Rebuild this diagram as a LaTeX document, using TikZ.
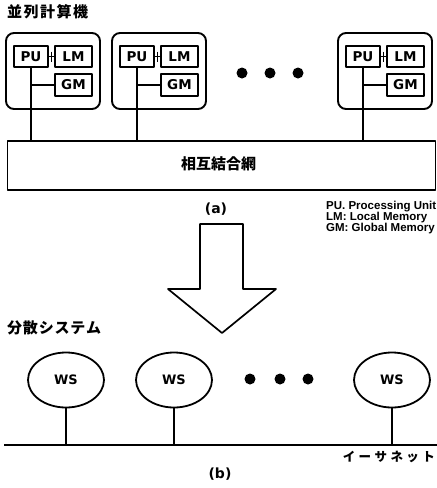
\documentclass[tikz,border=0pt]{standalone}
\usepackage{fontspec}
\setmainfont{DejaVu Sans}
\newfontfamily\jpfont{Noto Sans CJK JP}
\newfontfamily\legendfont{Liberation Sans}
\usetikzlibrary{shapes.geometric,calc}

% spread a run of characters evenly over a given width
\newcommand\spreadto[2]{\makebox[#1][s]{#2}}

\begin{document}
\begin{tikzpicture}[x=1pt,y=-1pt,
  line join=round,
  frame/.style={draw, line width=1.9pt, rounded corners=8pt, minimum width=94pt, minimum height=76pt, inner sep=0pt},
  unit/.style={draw, line width=1.6pt, inner sep=0pt, font=\bfseries\fontsize{13.5}{14}\selectfont},
  wire/.style={line width=1.7pt},
  ws/.style={draw, ellipse, line width=1.8pt, minimum width=76pt, minimum height=55pt, inner sep=0pt, font=\bfseries\fontsize{13}{14}\selectfont},
  dot/.style={fill, circle, minimum size=11pt, inner sep=0pt},
  jp/.style={font=\jpfont\bfseries\fontsize{15}{16}\selectfont, inner sep=0pt},
  caption/.style={font=\bfseries\fontsize{14}{15}\selectfont, inner sep=0pt},
  legend/.style={font=\legendfont\bfseries\fontsize{11.5}{12}\selectfont, inner sep=0pt, anchor=west}
]
\useasboundingbox (0,0) rectangle (437,488);

% ---------- parallel computer ----------
\node[jp, anchor=west] (title1) at (7,12) {\spreadto{81pt}{並\hfill 列\hfill 計\hfill 算\hfill 機}};

\node[draw, line width=1.9pt, minimum width=428pt, minimum height=49pt, inner sep=0pt] (net) at (221.5,165.5) {};
\node[jp] (netlabel) at (217,164) {\spreadto{72pt}{相\hfill 互\hfill 結\hfill 合\hfill 網}};

\foreach \i/\L in {1/6,2/112,3/338}{
  \node[frame] (pe\i) at ({\L+47},71) {};
  \node[unit, minimum width=34pt, minimum height=21pt] (pu\i) at ({\L+25},56.5) {PU};
  \node[unit, minimum width=37pt, minimum height=21pt] (lm\i) at ({\L+67.5},56.5) {LM};
  \node[unit, minimum width=37pt, minimum height=22pt] (gm\i) at ({\L+67.5},85) {GM};
  % PU -- LM link with its small tick
  \draw[wire] (pu\i.east) -- (lm\i.west);
  \draw[wire] ($(pu\i.east)!0.5!(lm\i.west)+(0,-5)$) -- ++(0,10);
  % PU bus line down to the network, with a branch to GM
  \draw[wire] (pu\i.south) -- (pu\i.south |- net.north);
  \draw[wire] (gm\i.west) -- (gm\i.west -| pu\i.south);
}

\node[dot] (d1) at (242,73) {};
\node[dot] (d2) at (270,73) {};
\node[dot] (d3) at (298,73) {};

\node[caption] (capa) at (216,209) {(a)};

\node[legend] (leg1) at (326,207) {PU. Processing Unit};
\node[legend] (leg2) at (326,218) {LM: Local Memory};
\node[legend] (leg3) at (326,229) {GM: Global Memory};

% ---------- big transition arrow ----------
\draw[line width=1.7pt, fill=white]
  (200,224) -- (243,224) -- (243,289) -- (276,289) -- (222,333) -- (168,289) -- (200,289) -- cycle;

% ---------- distributed system ----------
\node[jp, anchor=west] (title2) at (7,328) {\spreadto{94pt}{分\hfill 散\hfill シ\hfill ス\hfill テ\hfill ム}};

\coordinate (eL) at (4,445);
\coordinate (eR) at (437,445);
\draw[line width=2.2pt] (eL) -- (eR);

\node[ws] (ws1) at (66,380) {WS};
\node[ws] (ws2) at (174,380) {WS};
\node[ws] (ws3) at (392,380) {WS};

\draw[wire] (ws1.south) -- (ws1.south |- eL);
\draw[wire] (ws2.south) -- (ws2.south |- eL);
\draw[line width=2.2pt] (ws3.south) -- (ws3.south |- eL);

\node[dot] (e1) at (250,379) {};
\node[dot] (e2) at (280,379) {};
\node[dot] (e3) at (308,379) {};

\node[jp, anchor=east, font=\jpfont\bfseries\fontsize{12.5}{13}\selectfont] (ether) at (435,457) {\spreadto{92pt}{イ\hfill ー\hfill サ\hfill ネ\hfill ッ\hfill ト}};

\node[caption] (capb) at (220,474) {(b)};
\end{tikzpicture}
\end{document}
